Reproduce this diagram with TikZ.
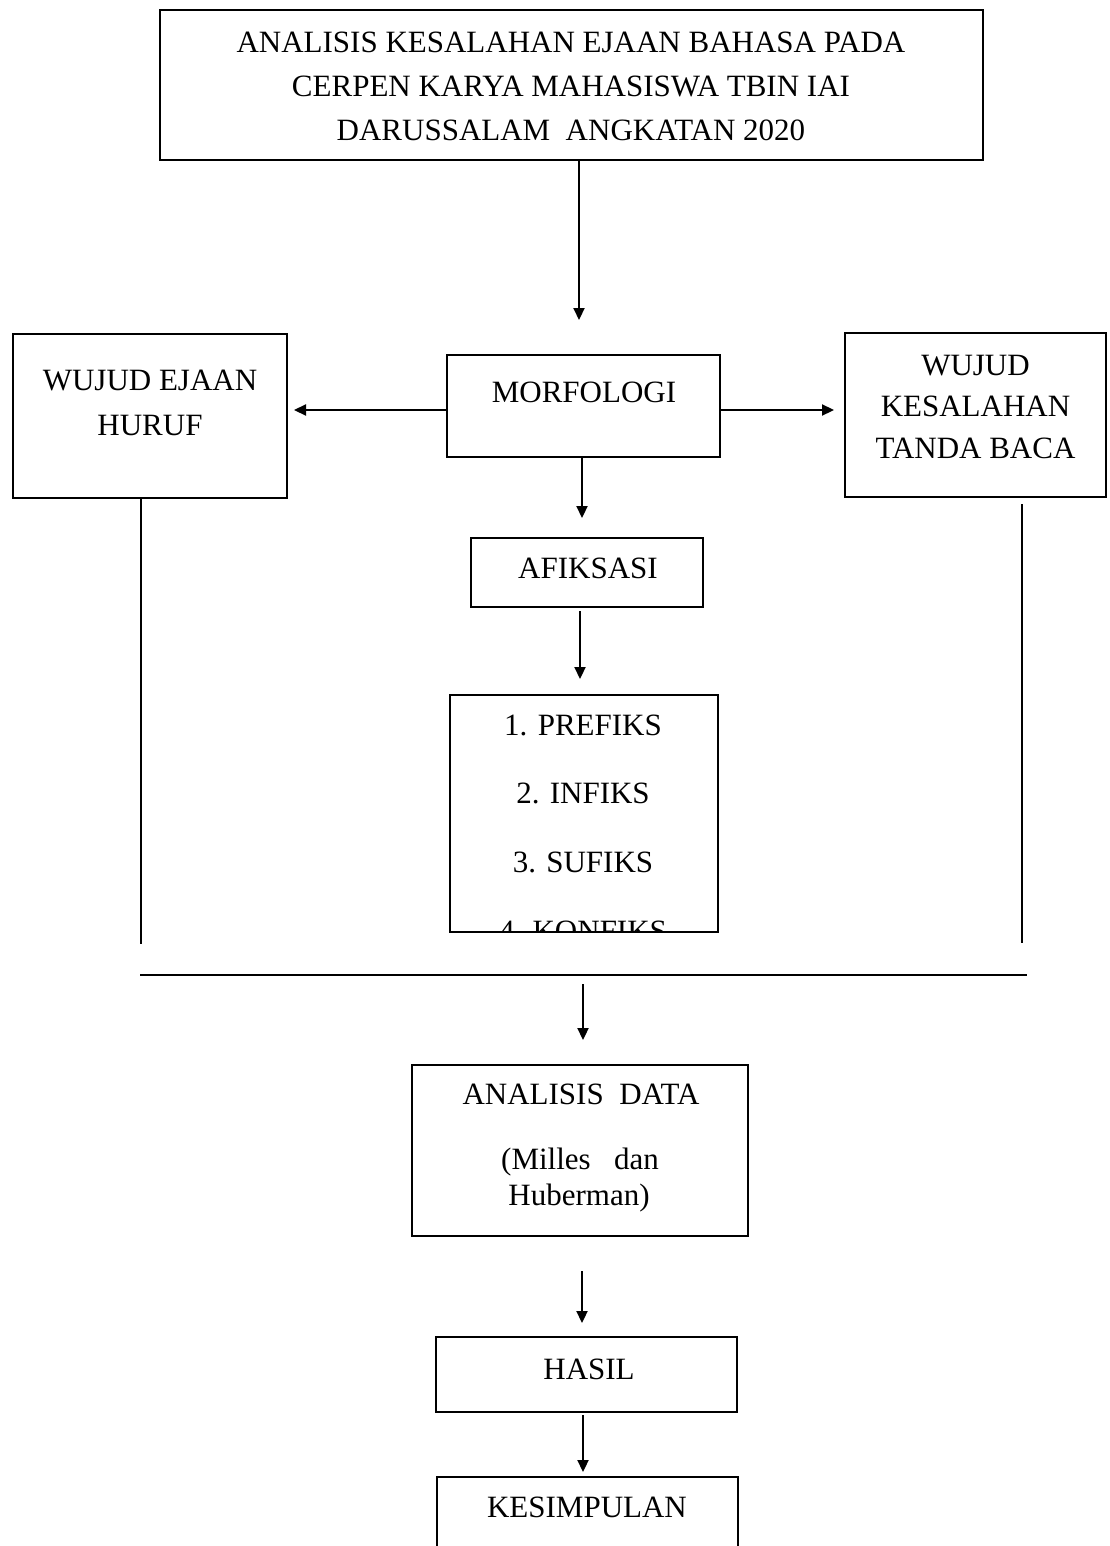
\documentclass[tikz,border=0pt]{standalone}
\usepackage{fontspec}
\setmainfont{Liberation Serif}
\usetikzlibrary{arrows.meta}

\tikzset{
  kotak/.style={draw, line width=2.8pt, inner sep=0pt, outer sep=0pt},
  teks/.style={inner sep=0pt, align=center, font=\fontsize{31}{44}\selectfont},
  panah/.style={-{Triangle[length=12pt,width=11pt]}, line width=2.2pt},
  garis/.style={line width=1.8pt}
}

\begin{document}
\begin{tikzpicture}[x=1pt,y=-1pt]
\clip (0,0) rectangle (1109,1546);
\fill[white] (0,0) rectangle (1109,1546);

% kotak-kotak
\node[kotak, minimum width=823pt, minimum height=150pt] at (571.5,85) (judul) {};
\node[kotak, minimum width=274pt, minimum height=164pt] at (150,416) (ejaan) {};
\node[kotak, minimum width=273pt, minimum height=102pt] at (583.5,406) (morf) {};
\node[kotak, minimum width=261pt, minimum height=164pt] at (975.5,415) (tanda) {};
\node[kotak, minimum width=232pt, minimum height=69pt] at (587,572.5) (afiks) {};
\node[kotak, minimum width=268pt, minimum height=237pt] at (584,813.5) (daftar) {};
\node[kotak, minimum width=336pt, minimum height=171pt] at (580,1150.5) (data) {};
\node[kotak, minimum width=301pt, minimum height=75pt] at (586.5,1374.5) (hasil) {};
\node[kotak, minimum width=301pt, minimum height=123pt] at (587.5,1538.5) (simpul) {};

% teks
\node[teks, anchor=north] at (571,31.5) (tjudul)
  {ANALISIS\ KESALAHAN\ EJAAN BAHASA\ PADA\\CERPEN KARYA MAHASISWA\ TBIN IAI\\DARUSSALAM\ \ ANGKATAN 2020};
\node[teks, anchor=north, font=\fontsize{31}{45}\selectfont] at (150,369.5) (tejaan) {WUJUD EJAAN\\HURUF};
\node[teks, anchor=north] at (584,381.5) (tmorf) {MORFOLOGI};
\node[teks, anchor=north, font=\fontsize{31}{41.5}\selectfont] at (975.5,354.5) (ttanda)
  {WUJUD\\KESALAHAN\\TANDA BACA};
\node[teks, anchor=north] at (588,557.5) (tafiks) {AFIKSASI};
\begin{scope}
\clip (daftar.north west) rectangle (daftar.south east);
\node[teks, anchor=north, font=\fontsize{31}{68.7}\selectfont] at (583,714.5) (tdaftar)
  {1. PREFIKS\\2. INFIKS\\3. SUFIKS\\4. KONFIKS};
\end{scope}
\node[teks, anchor=base] at (581,1104) (tdata) {ANALISIS\ \ DATA};
\node[teks, anchor=base] at (580,1169) (tmilles) {(Milles\ \ \ dan};
\node[teks, anchor=base] at (579,1205) (thuber) {Huberman)};
\node[teks, anchor=base] at (589,1379) (thasil) {HASIL};
\node[teks, anchor=base] at (587,1517) (tsimpul) {KESIMPULAN};

% titik bebas
\coordinate (kiri) at (141,944);
\coordinate (kanan) at (1022,943);
\coordinate (garisL) at (140,975);
\coordinate (garisR) at (1027,975);
\coordinate (turun) at (583,984);

% panah
\draw[panah, shorten >=35pt] ([xshift=7.5pt]judul.south) -- ([xshift=-4.5pt]morf.north);
\draw[panah, shorten >=7pt] ([yshift=-4pt]morf.west) -- ([yshift=-4pt]morf.west -| ejaan.east);
\draw[panah, shorten >=11pt] ([yshift=-4pt]morf.east) -- ([yshift=-4pt]morf.east -| tanda.west);
\draw[panah, shorten >=20pt] ([xshift=-1.5pt]morf.south) -- ([xshift=-1.5pt]morf.south |- afiks.north);
\draw[panah, shorten <=4pt, shorten >=16pt] ([xshift=-4pt]daftar.north |- afiks.south) -- ([xshift=-4pt]daftar.north);

% garis tepi
\draw[garis] (ejaan.south -| kiri) -- (kiri);
\draw[garis] ([yshift=-7pt]tanda.south -| kanan) -- (kanan);
\draw[line width=2.4pt] (garisL) -- (garisR);

\draw[panah, shorten >=25pt] (turun) -- (turun |- data.north);
\draw[panah, shorten <=35pt, shorten >=14pt] ([xshift=2pt]data.south) -- ([xshift=2pt]data.south |- hasil.north);
\draw[panah, shorten <=3pt, shorten >=5pt] ([xshift=-3.5pt]hasil.south) -- ([xshift=-3.5pt]hasil.south |- simpul.north);

\end{tikzpicture}
\end{document}
